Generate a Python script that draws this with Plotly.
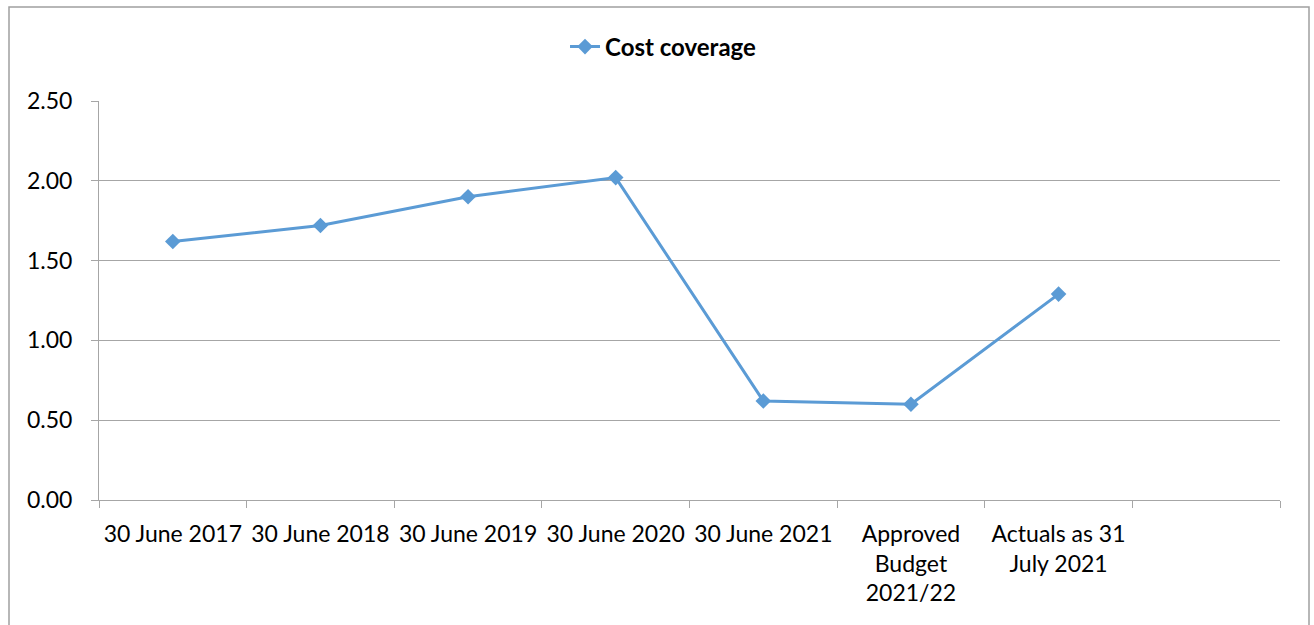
import plotly.graph_objects as go

categories = ["30 June 2017", "30 June 2018", "30 June 2019", "30 June 2020", "30 June 2021",
              "Approved<br>Budget<br>2021/22", "Actuals as 31<br>July 2021", " "]
values = [1.62, 1.72, 1.90, 2.02, 0.62, 0.60, 1.29]
y_ticks = [0, 0.5, 1.0, 1.5, 2.0, 2.5]

FONT = "Lato"
GRID = "#a6a6a6"
BLUE = "#5b9bd5"

W, H = 1314, 625
L, T = 99, 101
PW, PH = 1181, 399

fig = go.Figure()
fig.add_trace(go.Scatter(
    x=categories[:len(values)], y=values, mode="lines+markers", name="Cost coverage",
    line=dict(color=BLUE, width=3),
    marker=dict(symbol="diamond", size=12, color=BLUE),
))

fig.update_layout(
    width=W, height=H,
    margin=dict(l=L, r=W - L - PW, t=T, b=H - T - PH, autoexpand=False),
    paper_bgcolor="white", plot_bgcolor="white",
    font=dict(family=FONT, size=23, color="black"),
    showlegend=True,
    legend=dict(orientation="h", x=0.478, xanchor="center", y=(500 - 47) / PH, yanchor="middle",
                font=dict(family=FONT, size=24, color="black", weight="bold")),
    xaxis=dict(type="category", categoryorder="array", categoryarray=categories,
               range=[-0.5, 7.5], tickson="boundaries", ticks="outside", ticklen=7,
               tickcolor=GRID, showline=True, linecolor=GRID, linewidth=1,
               showgrid=False, tickfont=dict(size=23), ticklabelstandoff=13),
    yaxis=dict(range=[0, 2.5], tickvals=y_ticks, tickformat=".2f", ticks="outside",
               ticklen=7, tickcolor=GRID, showline=True, linecolor=GRID, linewidth=1,
               showgrid=True, gridcolor=GRID, gridwidth=1, zeroline=False,
               tickfont=dict(size=23), ticklabelstandoff=14),
)

fig.add_shape(type="rect", xref="paper", yref="paper",
              x0=(9 - L) / PW, x1=(1309 - L) / PW,
              y0=-0.4, y1=(500 - 7) / PH,
              line=dict(color="#a0a0a0", width=1.5), fillcolor="rgba(0,0,0,0)", layer="below")

fig.write_html("out.html", config={"displayModeBar": False},
               post_script="document.body.style.margin='0';document.body.style.overflow='hidden';")
